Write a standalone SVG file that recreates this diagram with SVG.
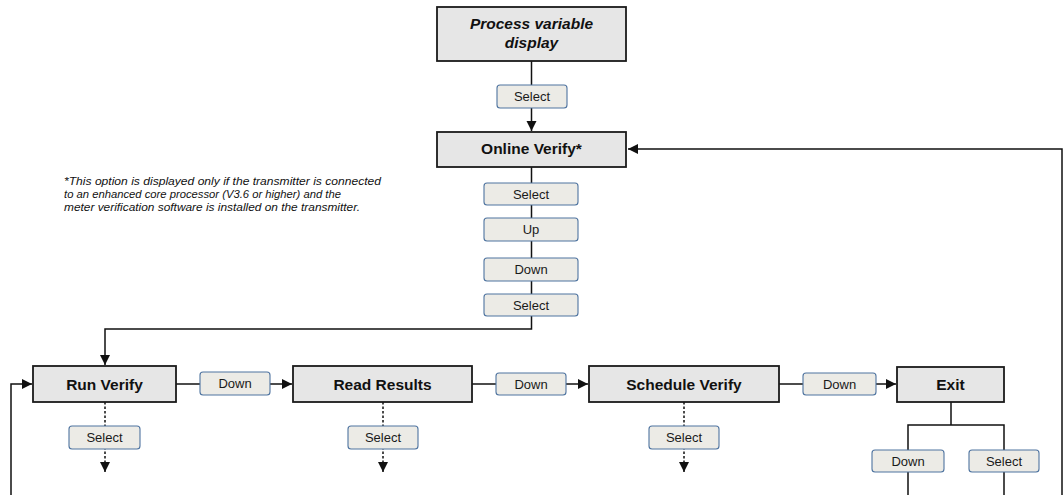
<svg xmlns="http://www.w3.org/2000/svg" width="1063" height="495" viewBox="0 0 1063 495">
<style>
.box{fill:#e6e6e6;stroke:#1a1a1a;stroke-width:1.8}
.btn{fill:#ecebe6;stroke:#4f74a0;stroke-width:1.1}
.bt{font-family:"Liberation Sans",Arial,sans-serif;font-size:13px;fill:#1a1a1a;text-anchor:middle}
.nt{font-family:"Liberation Sans",Arial,sans-serif;font-size:15.5px;font-weight:bold;fill:#111;text-anchor:middle}
.ln{fill:none;stroke:#111;stroke-width:1.5}
.dl{fill:none;stroke:#111;stroke-width:1.5;stroke-dasharray:2.5 2}
.note{font-family:"Liberation Sans",Arial,sans-serif;font-size:11.3px;font-style:italic;fill:#111}
</style>
<defs>
<marker id="ahb" viewBox="0 0 10 10" refX="10" refY="5" markerWidth="10" markerHeight="11" markerUnits="userSpaceOnUse" orient="auto">
<path d="M0,0 L10,5 L0,10 z" fill="#111"/>
</marker>
</defs>
<rect width="1063" height="495" fill="#fff"/>

<g id="connectors">
<path class="ln" d="M531.5,61 V131" marker-end="url(#ahb)"/>
<path class="ln" d="M1062,495 V149 H628" marker-end="url(#ahb)"/>
<path class="ln" d="M531.5,167 V329 H105 V365" marker-end="url(#ahb)"/>
<path class="ln" d="M11,495 V384 H32" marker-end="url(#ahb)"/>
<path class="ln" d="M176,384 H292" marker-end="url(#ahb)"/>
<path class="ln" d="M472,384 H588" marker-end="url(#ahb)"/>
<path class="ln" d="M779,384 H896" marker-end="url(#ahb)"/>
<path class="dl" d="M105,402 V472" marker-end="url(#ahb)"/>
<path class="dl" d="M383,402 V472" marker-end="url(#ahb)"/>
<path class="dl" d="M684,402 V472" marker-end="url(#ahb)"/>
<path class="ln" d="M951,402 V425 M908,495 V425 H1004 V495"/>
</g>

<g id="n-pvd"><rect class="box" x="437" y="7" width="189" height="54"/>
<text class="nt" font-style="italic" x="531.5" y="29">Process variable</text>
<text class="nt" font-style="italic" x="531.5" y="48">display</text></g>
<g id="b-sel0"><rect class="btn" x="497" y="85" width="70" height="23" rx="3"/><text class="bt" x="532" y="101">Select</text></g>
<g id="n-ov"><rect class="box" x="437" y="132" width="189" height="35"/><text class="nt" x="531.5" y="154">Online Verify*</text></g>

<g id="note"><text class="note" x="64" y="185" textLength="317" lengthAdjust="spacingAndGlyphs">*This option is displayed only if the transmitter is connected</text>
<text class="note" x="64" y="198" textLength="277" lengthAdjust="spacingAndGlyphs">to an enhanced core processor (V3.6 or higher) and the</text>
<text class="note" x="64" y="211" textLength="296" lengthAdjust="spacingAndGlyphs">meter verification software is installed on the transmitter.</text></g>

<g id="b-sel1"><rect class="btn" x="484" y="183" width="94" height="22" rx="3"/><text class="bt" x="531" y="198.5">Select</text></g>
<g id="b-up"><rect class="btn" x="484" y="218" width="94" height="23" rx="3"/><text class="bt" x="531" y="234">Up</text></g>
<g id="b-down"><rect class="btn" x="484" y="258" width="94" height="23" rx="3"/><text class="bt" x="531" y="274">Down</text></g>
<g id="b-sel2"><rect class="btn" x="484" y="294" width="94" height="22" rx="3"/><text class="bt" x="531" y="309.5">Select</text></g>

<g id="n-run"><rect class="box" x="33" y="366" width="143" height="36"/><text class="nt" x="104.5" y="389.5">Run Verify</text></g>
<g id="b-d1"><rect class="btn" x="200" y="372" width="70" height="23" rx="3"/><text class="bt" x="235" y="388">Down</text></g>
<g id="n-read"><rect class="box" x="293" y="366" width="179" height="36"/><text class="nt" x="382.5" y="389.5">Read Results</text></g>
<g id="b-d2"><rect class="btn" x="496" y="373" width="70" height="22" rx="3"/><text class="bt" x="531" y="388.5">Down</text></g>
<g id="n-sched"><rect class="box" x="589" y="366" width="190" height="36"/><text class="nt" x="684" y="389.5">Schedule Verify</text></g>
<g id="b-d3"><rect class="btn" x="803" y="373" width="73" height="22" rx="3"/><text class="bt" x="839.5" y="388.5">Down</text></g>
<g id="n-exit"><rect class="box" x="897" y="367" width="107" height="35"/><text class="nt" x="950.5" y="390">Exit</text></g>

<g id="b-s1"><rect class="btn" x="69" y="426" width="71" height="23" rx="3"/><text class="bt" x="104.5" y="442">Select</text></g>
<g id="b-s2"><rect class="btn" x="348" y="426" width="70" height="23" rx="3"/><text class="bt" x="383" y="442">Select</text></g>
<g id="b-s3"><rect class="btn" x="649" y="426" width="70" height="23" rx="3"/><text class="bt" x="684" y="442">Select</text></g>
<g id="b-ed"><rect class="btn" x="872" y="450" width="72" height="22" rx="3"/><text class="bt" x="908" y="465.5">Down</text></g>
<g id="b-es"><rect class="btn" x="969" y="450" width="70" height="22" rx="3"/><text class="bt" x="1004" y="465.5">Select</text></g>
</svg>
